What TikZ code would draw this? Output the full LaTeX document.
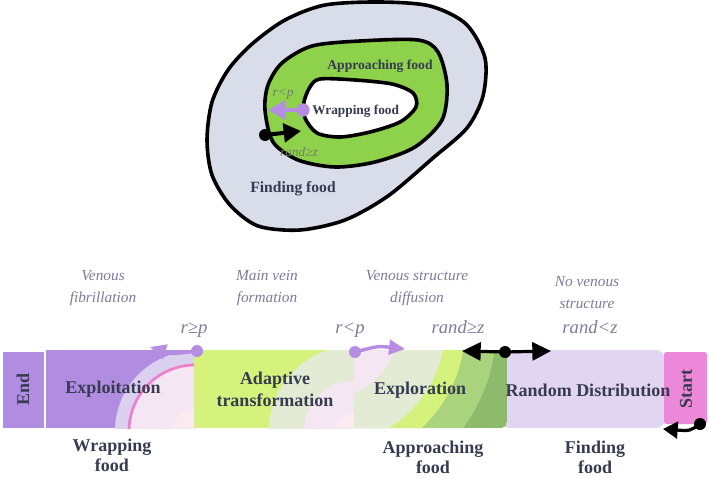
\documentclass[tikz,border=0pt]{standalone}
\usepackage{fontspec}
\setmainfont{Liberation Serif}
\usetikzlibrary{arrows.meta}
\definecolor{outerfill}{HTML}{D9DCE9}
\definecolor{ringgreen}{HTML}{8ED14B}
\definecolor{txtdark}{HTML}{363B50}
\definecolor{italgrey}{HTML}{7E7A99}
\definecolor{smallgrey}{HTML}{6F8068}
\definecolor{purpA}{HTML}{B18DE1}
\definecolor{arrpurp}{HTML}{B58EE1}
\definecolor{lavring}{HTML}{DCD0F0}
\definecolor{pinkarc}{HTML}{EE7FCB}
\definecolor{pinkfill}{HTML}{F4E6F2}
\definecolor{pinkin}{HTML}{FBEAF0}
\definecolor{ygreen}{HTML}{D4F27C}
\definecolor{lightgg}{HTML}{E3EBD5}
\definecolor{medgreen}{HTML}{A9D47D}
\definecolor{darkgreen}{HTML}{8DBA6B}
\definecolor{randlav}{HTML}{E2D5F1}
\definecolor{startpink}{HTML}{EC88D8}
\tikzset{
  blob/.style={draw=black, line width=2.7pt, line join=round},
  boxlab/.style={font=\fontsize{13.5}{16.5}\selectfont\bfseries, text=txtdark, align=center, inner sep=0pt},
  foodlab/.style={font=\fontsize{13.5}{15}\selectfont\bfseries, text=txtdark, align=center, inner sep=0pt},
  itallab/.style={font=\fontsize{11.5}{16.5}\selectfont\itshape, text=italgrey, align=center, inner sep=0pt},
  condlab/.style={font=\fontsize{14}{16}\selectfont\itshape, text=italgrey, inner sep=0pt},
  toplab/.style={font=\bfseries, text=txtdark, inner sep=0pt},
  smalllab/.style={font=\fontsize{10}{12}\selectfont\itshape, text=smallgrey, inner sep=0pt},
  pdot/.style={circle, fill=arrpurp, inner sep=0pt, minimum size=9pt},
  bdot/.style={circle, fill=black, inner sep=0pt, minimum size=9pt},
  parrow/.style={draw=arrpurp, line width=2.6pt, -{Triangle[length=12pt,width=11pt]}},
  tparrow/.style={draw=arrpurp, line width=3pt, -{Triangle[length=13pt,width=14pt]}},
  barrow/.style={draw=black, line width=2.4pt, -{Triangle[length=14pt,width=13.5pt]}},
}
\begin{document}
\begin{tikzpicture}[x=0.75pt,y=-0.75pt]
\useasboundingbox (0,0) rectangle (709,478);

% ---------- top diagram ----------
\draw[blob, fill=outerfill] plot[smooth cycle] coordinates {
  (207,140) (212,102) (228,70) (252,44) (285,20) (325,5) (380,2) (430,6)
  (466,24) (485,58) (483,96) (467,128) (433,158) (388,196) (345,220)
  (300,230) (258,226) (230,205) (212,175)};
\draw[blob, fill=ringgreen] plot[smooth cycle] coordinates {
  (265,110) (268,85) (282,63) (312,46) (360,41) (418,40) (438,52) (447,85)
  (442,120) (415,147) (375,162) (335,167) (298,160) (273,142)};
\draw[blob, fill=white] plot[smooth cycle] coordinates {
  (304,102) (310,87) (320,79) (355,80) (392,84) (413,93) (416,107)
  (400,122) (370,132) (340,137) (317,133) (305,118)};

\node[toplab, font=\fontsize{10.2}{12}\selectfont\bfseries] (tApp) at (380,66) {Approaching food};
\node[toplab, font=\fontsize{10}{12}\selectfont\bfseries, anchor=west] (tWrap) at (312,111) {Wrapping food};
\node[toplab, font=\fontsize{11.7}{14}\selectfont\bfseries] (tFind) at (293,189) {Finding food};
\node[smalllab] (tRlp) at (283,94) {r<p};
\node[smalllab] (tRge) at (299,152) {rand≥z};

\node[pdot, minimum size=10pt] (tp) at (303,110) {};
\coordinate (ta) at (268,110);
\draw[tparrow] (tp.center) -- (ta);
\node[bdot] (tb) at (265,135) {};
\coordinate (tbt) at (301,131);
\draw[tparrow, draw=black] (tb.center) -- (tbt);

% ---------- bottom band ----------
% Random distribution
\fill[randlav, rounded corners=7] (500,350) rectangle (665,428);
% Start
\fill[startpink, rounded corners=2] (664,352) rectangle (707,424);
% Exploration
\begin{scope}
  \clip[rounded corners=5] (350,350) rectangle (507,428);
  \fill[darkgreen] (350,350) rectangle (507,428);
  \fill[medgreen] (328,328) circle[radius=168];
  \fill[ygreen] (328,328) circle[radius=137];
  \fill[lightgg] (328,328) circle[radius=117];
  \fill[pinkfill] (328,328) circle[radius=70];
\end{scope}
% Adaptive transformation
\begin{scope}
  \clip (194,350) rectangle (354,428);
  \fill[ygreen] (194,350) rectangle (354,428);
  \fill[lightgg] (354,431) circle[radius=85];
  \fill[pinkfill] (354,431) circle[radius=50];
  \fill[pinkin] (354,431) circle[radius=18];
\end{scope}
% Exploitation
\begin{scope}
  \clip (46,350) rectangle (194,428);
  \fill[purpA] (46,350) rectangle (194,428);
  \fill[lavring] (195,431) circle[radius=80];
  \fill[pinkfill] (195,431) circle[radius=66];
  \fill[pinkin] (195,431) circle[radius=22];
  \draw[pinkarc, line width=2pt] (195,431) circle[radius=66];
\end{scope}
% End
\fill[purpA] (3,352) rectangle (44,428);

% box labels
\node[boxlab, rotate=90] (lEnd) at (23,389) {End};
\node[boxlab] (lExploit) at (113,389) {Exploitation};
\node[boxlab] (lAdapt) at (275,389) {Adaptive\\transformation};
\node[boxlab] (lExplor) at (420,390) {Exploration};
\node[boxlab] (lRand) at (588,390) {Random Distribution};
\node[boxlab, rotate=90] (lStart) at (686,389) {Start};

% food labels
\node[foodlab] (fWrap) at (112,455) {Wrapping\\food};
\node[foodlab] (fApp) at (433,457) {Approaching\\food};
\node[foodlab] (fFind) at (595,457) {Finding\\food};

% italic stage labels
\node[itallab] (iVen) at (103,288) {Venous\\fibrillation};
\node[itallab] (iMain) at (267,288) {Main vein\\formation};
\node[itallab] (iDiff) at (417,288) {Venous structure\\diffusion};
\node[itallab] (iNo) at (587,293) {No venous\\structure};

% conditions
\node[condlab] (cRge) at (194,330) {r≥p};
\node[condlab] (cRlp) at (350,330) {r<p};
\node[condlab] (cRandGe) at (458,327) {rand≥z};
\node[condlab] (cRandLt) at (590,327) {rand<z};

% arrows
\node[pdot] (d1) at (197,351) {};
\coordinate (c1) at (172,354);
\coordinate (a1) at (150,347);
\draw[parrow] (d1.center) .. controls (c1) .. (a1);

\node[pdot] (d2) at (355,352) {};
\coordinate (c2) at (378,346);
\coordinate (a2) at (405,349);
\draw[parrow] (d2.center) .. controls (c2) .. (a2);

\node[bdot] (d3) at (505,352) {};
\coordinate (bl) at (462,351);
\coordinate (br) at (551,351);
\draw[barrow] (d3.center) -- (bl);
\draw[barrow] (d3.center) -- (br);

\node[bdot] (d4) at (700,424) {};
\coordinate (c4) at (690,431);
\coordinate (sa) at (663,429);
\draw[barrow, -{Triangle[length=11pt,width=12.5pt]}] (d4.center) .. controls (c4) .. (sa);
\end{tikzpicture}
\end{document}
